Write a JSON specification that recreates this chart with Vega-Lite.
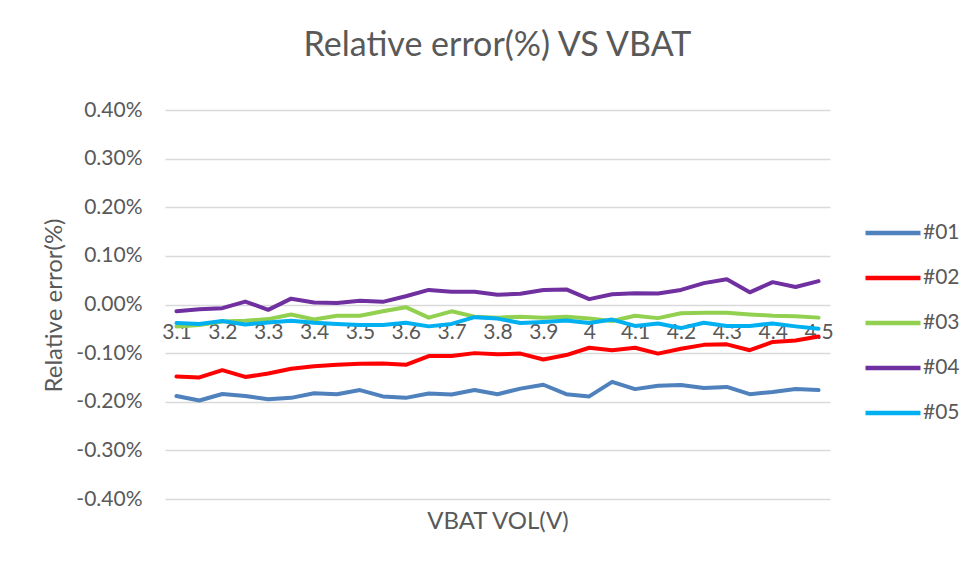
{
  "$schema": "https://vega.github.io/schema/vega-lite/v6.json",
  "width": 665,
  "height": 389,
  "autosize": {"type": "none"},
  "padding": {"left": 165, "top": 110, "right": 146, "bottom": 63},
  "background": "white",
  "config": {
    "font": "Lato",
    "view": {"stroke": null}
  },
  "title": {
    "text": "Relative error(%) VS VBAT",
    "fontSize": 34,
    "fontWeight": "normal",
    "color": "#595959",
    "anchor": "middle",
    "frame": "group",
    "baseline": "middle",
    "offset": 19
  },
  "data": {
    "values": [
      {"v":"3.1","s":"#01","e":-0.00188},{"v":"3.15","s":"#01","e":-0.001975},{"v":"3.2","s":"#01","e":-0.00184},{"v":"3.25","s":"#01","e":-0.00188},{"v":"3.3","s":"#01","e":-0.00195},{"v":"3.35","s":"#01","e":-0.00192},{"v":"3.4","s":"#01","e":-0.001825},{"v":"3.45","s":"#01","e":-0.001845},{"v":"3.5","s":"#01","e":-0.00176},{"v":"3.55","s":"#01","e":-0.00189},{"v":"3.6","s":"#01","e":-0.00192},{"v":"3.65","s":"#01","e":-0.00183},{"v":"3.7","s":"#01","e":-0.00185},{"v":"3.75","s":"#01","e":-0.00176},{"v":"3.8","s":"#01","e":-0.001845},{"v":"3.85","s":"#01","e":-0.00173},{"v":"3.9","s":"#01","e":-0.00165},{"v":"3.95","s":"#01","e":-0.001845},{"v":"4","s":"#01","e":-0.00189},{"v":"4.05","s":"#01","e":-0.00159},{"v":"4.1","s":"#01","e":-0.00174},{"v":"4.15","s":"#01","e":-0.00167},{"v":"4.2","s":"#01","e":-0.001655},{"v":"4.25","s":"#01","e":-0.001715},{"v":"4.3","s":"#01","e":-0.001695},{"v":"4.35","s":"#01","e":-0.001845},{"v":"4.4","s":"#01","e":-0.0018},{"v":"4.45","s":"#01","e":-0.00174},{"v":"4.5","s":"#01","e":-0.00176},
      {"v":"3.1","s":"#02","e":-0.00148},{"v":"3.15","s":"#02","e":-0.0015},{"v":"3.2","s":"#02","e":-0.00135},{"v":"3.25","s":"#02","e":-0.00149},{"v":"3.3","s":"#02","e":-0.00142},{"v":"3.35","s":"#02","e":-0.00132},{"v":"3.4","s":"#02","e":-0.00127},{"v":"3.45","s":"#02","e":-0.00124},{"v":"3.5","s":"#02","e":-0.00122},{"v":"3.55","s":"#02","e":-0.001215},{"v":"3.6","s":"#02","e":-0.00124},{"v":"3.65","s":"#02","e":-0.00106},{"v":"3.7","s":"#02","e":-0.00106},{"v":"3.75","s":"#02","e":-0.001},{"v":"3.8","s":"#02","e":-0.001025},{"v":"3.85","s":"#02","e":-0.00101},{"v":"3.9","s":"#02","e":-0.00113},{"v":"3.95","s":"#02","e":-0.00104},{"v":"4","s":"#02","e":-0.00089},{"v":"4.05","s":"#02","e":-0.00094},{"v":"4.1","s":"#02","e":-0.00089},{"v":"4.15","s":"#02","e":-0.00101},{"v":"4.2","s":"#02","e":-0.00091},{"v":"4.25","s":"#02","e":-0.00083},{"v":"4.3","s":"#02","e":-0.00082},{"v":"4.35","s":"#02","e":-0.00094},{"v":"4.4","s":"#02","e":-0.00077},{"v":"4.45","s":"#02","e":-0.00074},{"v":"4.5","s":"#02","e":-0.00066},
      {"v":"3.1","s":"#03","e":-0.00045},{"v":"3.15","s":"#03","e":-0.00042},{"v":"3.2","s":"#03","e":-0.00035},{"v":"3.25","s":"#03","e":-0.000335},{"v":"3.3","s":"#03","e":-0.0003},{"v":"3.35","s":"#03","e":-0.000205},{"v":"3.4","s":"#03","e":-0.00031},{"v":"3.45","s":"#03","e":-0.00023},{"v":"3.5","s":"#03","e":-0.00023},{"v":"3.55","s":"#03","e":-0.00014},{"v":"3.6","s":"#03","e":-0.000055},{"v":"3.65","s":"#03","e":-0.00027},{"v":"3.7","s":"#03","e":-0.00014},{"v":"3.75","s":"#03","e":-0.00025},{"v":"3.8","s":"#03","e":-0.00027},{"v":"3.85","s":"#03","e":-0.00025},{"v":"3.9","s":"#03","e":-0.00027},{"v":"3.95","s":"#03","e":-0.00025},{"v":"4","s":"#03","e":-0.00029},{"v":"4.05","s":"#03","e":-0.00034},{"v":"4.1","s":"#03","e":-0.00023},{"v":"4.15","s":"#03","e":-0.00028},{"v":"4.2","s":"#03","e":-0.00018},{"v":"4.25","s":"#03","e":-0.00017},{"v":"4.3","s":"#03","e":-0.00017},{"v":"4.35","s":"#03","e":-0.000205},{"v":"4.4","s":"#03","e":-0.00023},{"v":"4.45","s":"#03","e":-0.00024},{"v":"4.5","s":"#03","e":-0.00027},
      {"v":"3.1","s":"#04","e":-0.000137},{"v":"3.15","s":"#04","e":-0.0001},{"v":"3.2","s":"#04","e":-0.000075},{"v":"3.25","s":"#04","e":0.00006},{"v":"3.3","s":"#04","e":-0.00011},{"v":"3.35","s":"#04","e":0.00012},{"v":"3.4","s":"#04","e":0.00004},{"v":"3.45","s":"#04","e":0.00003},{"v":"3.5","s":"#04","e":0.000075},{"v":"3.55","s":"#04","e":0.000055},{"v":"3.6","s":"#04","e":0.00017},{"v":"3.65","s":"#04","e":0.0003},{"v":"3.7","s":"#04","e":0.00026},{"v":"3.75","s":"#04","e":0.00026},{"v":"3.8","s":"#04","e":0.0002},{"v":"3.85","s":"#04","e":0.00022},{"v":"3.9","s":"#04","e":0.0003},{"v":"3.95","s":"#04","e":0.00031},{"v":"4","s":"#04","e":0.00011},{"v":"4.05","s":"#04","e":0.00021},{"v":"4.1","s":"#04","e":0.00023},{"v":"4.15","s":"#04","e":0.000225},{"v":"4.2","s":"#04","e":0.0003},{"v":"4.25","s":"#04","e":0.00044},{"v":"4.3","s":"#04","e":0.00052},{"v":"4.35","s":"#04","e":0.00025},{"v":"4.4","s":"#04","e":0.00046},{"v":"4.45","s":"#04","e":0.00036},{"v":"4.5","s":"#04","e":0.00048},
      {"v":"3.1","s":"#05","e":-0.00038},{"v":"3.15","s":"#05","e":-0.0004},{"v":"3.2","s":"#05","e":-0.00034},{"v":"3.25","s":"#05","e":-0.00041},{"v":"3.3","s":"#05","e":-0.00037},{"v":"3.35","s":"#05","e":-0.000335},{"v":"3.4","s":"#05","e":-0.000375},{"v":"3.45","s":"#05","e":-0.0004},{"v":"3.5","s":"#05","e":-0.00042},{"v":"3.55","s":"#05","e":-0.00042},{"v":"3.6","s":"#05","e":-0.000375},{"v":"3.65","s":"#05","e":-0.00045},{"v":"3.7","s":"#05","e":-0.0004},{"v":"3.75","s":"#05","e":-0.00026},{"v":"3.8","s":"#05","e":-0.00029},{"v":"3.85","s":"#05","e":-0.00038},{"v":"3.9","s":"#05","e":-0.00036},{"v":"3.95","s":"#05","e":-0.00033},{"v":"4","s":"#05","e":-0.00038},{"v":"4.05","s":"#05","e":-0.00031},{"v":"4.1","s":"#05","e":-0.00044},{"v":"4.15","s":"#05","e":-0.00039},{"v":"4.2","s":"#05","e":-0.000485},{"v":"4.25","s":"#05","e":-0.000375},{"v":"4.3","s":"#05","e":-0.00044},{"v":"4.35","s":"#05","e":-0.00044},{"v":"4.4","s":"#05","e":-0.00039},{"v":"4.45","s":"#05","e":-0.00045},{"v":"4.5","s":"#05","e":-0.0005}
    ]
  },
  "mark": {"type": "line", "strokeWidth": 4, "strokeCap": "round", "strokeJoin": "round"},
  "encoding": {
    "x": {
      "field": "v",
      "type": "ordinal",
      "sort": null,
      "scale": {"paddingInner": 0, "paddingOuter": 0},
      "axis": {
        "values": ["3.1","3.2","3.3","3.4","3.5","3.6","3.7","3.8","3.9","4","4.1","4.2","4.3","4.4","4.5"],
        "offset": -194,
        "domain": false,
        "ticks": false,
        "grid": false,
        "labelAngle": 0,
        "labelFontSize": 21,
        "labelColor": "#595959",
        "labelPadding": 16,
        "title": "VBAT VOL(V)",
        "titleFontSize": 24,
        "titleFontWeight": "normal",
        "titleColor": "#595959",
        "titleBaseline": "middle",
        "titleY": 216
      }
    },
    "y": {
      "field": "e",
      "type": "quantitative",
      "scale": {"domain": [-0.004, 0.004], "nice": false, "zero": false},
      "axis": {
        "values": [-0.004,-0.003,-0.002,-0.001,0,0.001,0.002,0.003,0.004],
        "labelExpr": "replace(format(datum.value, '.2%'), '\u2212', '-')",
        "domain": false,
        "ticks": false,
        "gridColor": "#d9d9d9",
        "gridWidth": 1.5,
        "labelFontSize": 21,
        "labelColor": "#595959",
        "labelPadding": 23,
        "title": "Relative error(%)",
        "titleFontSize": 24,
        "titleFontWeight": "normal",
        "titleColor": "#595959",
        "titleAngle": -90,
        "titleAlign": "center",
        "titleBaseline": "middle",
        "titleX": -111,
        "titleY": 195
      }
    },
    "color": {
      "field": "s",
      "type": "nominal",
      "scale": {"domain": ["#01","#02","#03","#04","#05"], "range": ["#4f81bd","#ff0000","#92d050","#7030a0","#00b0f0"]},
      "legend": {
        "title": null,
        "orient": "none",
        "legendX": 698,
        "legendY": 93,
        "symbolType": "stroke",
        "symbolSize": 3025,
        "symbolStrokeWidth": 4.5,
        "labelFontSize": 21,
        "labelColor": "#595959",
        "labelOffset": 0,
        "rowPadding": 5
      }
    }
  }
}
